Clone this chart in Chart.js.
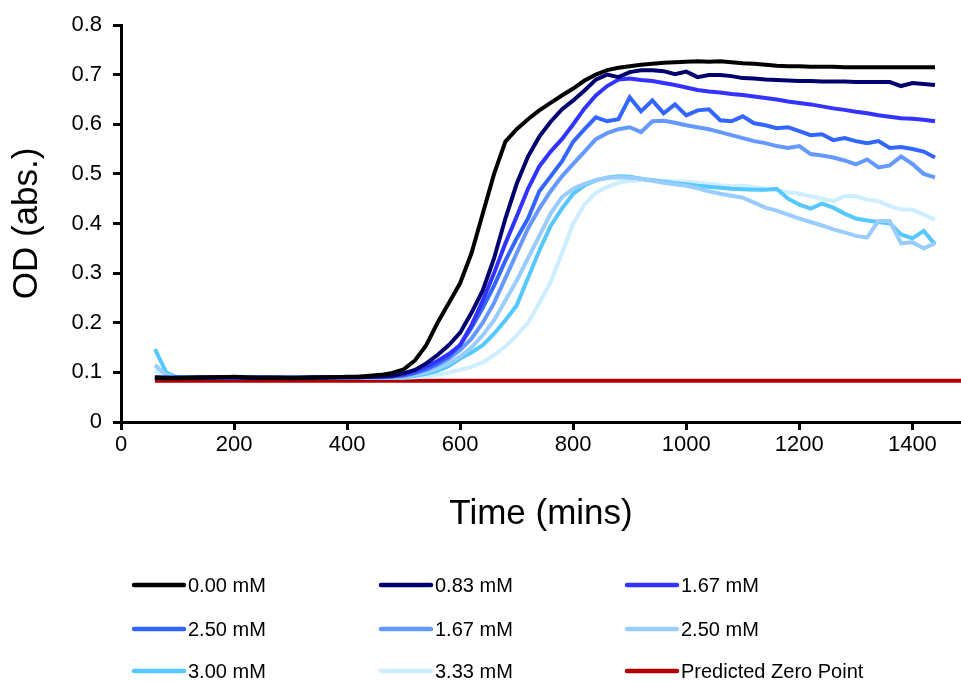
<!DOCTYPE html>
<html>
<head>
<meta charset="utf-8">
<script src="https://cdn.jsdelivr.net/npm/chart.js@4.4.1/dist/chart.umd.min.js"></script>
<style>
  html, body { margin: 0; padding: 0; background: #fff; }
  #wrap { width: 961px; height: 681px; }
</style>
</head>
<body>
<div id="wrap"><canvas id="growth" width="961" height="681"></canvas></div>
<script>
// sampling times (mins)
var times = [60,80,100,120,140,160,180,200,220,240,
             260,280,300,320,340,360,380,400,420,440,
             460,480,500,520,540,560,580,600,620,640,
             660,680,700,720,740,760,780,800,820,840,
             860,880,900,920,940,960,980,1000,1020,1040,
             1060,1080,1100,1120,1140,1160,1180,1200,1220,1240,
             1260,1280,1300,1320,1340,1360,1380,1400,1420,1440];

var labels = ["0.00 mM", "0.83 mM", "1.67 mM", "2.50 mM", "1.67 mM", "2.50 mM", "3.00 mM", "3.33 mM", "Predicted Zero Point"];
var colors = ["#000000", "#00006e", "#3333ff", "#3366ff", "#6699ff", "#99ccff", "#55c8ff", "#cceeff", "#b00000"];

var od000 = [0.089,0.089,0.088,0.089,0.089,0.090,0.090,0.091,0.090,0.089,
             0.089,0.089,0.088,0.089,0.089,0.090,0.090,0.091,0.091,0.093,
             0.095,0.099,0.106,0.124,0.155,0.200,0.240,0.280,0.340,0.420,
             0.500,0.565,0.590,0.610,0.628,0.643,0.658,0.672,0.688,0.700,
             0.709,0.714,0.717,0.720,0.722,0.724,0.725,0.726,0.727,0.726,
             0.727,0.725,0.723,0.722,0.720,0.718,0.717,0.717,0.716,0.716,
             0.716,0.715,0.715,0.715,0.715,0.715,0.715,0.715,0.715,0.715];
var od083 = [0.089,0.088,0.089,0.089,0.090,0.089,0.090,0.090,0.089,0.089,
             0.089,0.089,0.089,0.089,0.090,0.089,0.090,0.090,0.090,0.091,
             0.092,0.093,0.098,0.105,0.118,0.135,0.155,0.180,0.220,0.265,
             0.330,0.410,0.480,0.535,0.575,0.605,0.630,0.648,0.668,0.690,
             0.700,0.695,0.705,0.709,0.709,0.707,0.701,0.706,0.695,0.699,
             0.699,0.697,0.693,0.692,0.690,0.689,0.688,0.687,0.687,0.686,
             0.686,0.686,0.685,0.685,0.685,0.685,0.677,0.683,0.681,0.679];
var od167 = [0.090,0.089,0.089,0.089,0.089,0.090,0.089,0.089,0.089,0.090,
             0.089,0.089,0.089,0.089,0.089,0.090,0.090,0.090,0.090,0.091,
             0.091,0.092,0.096,0.103,0.112,0.123,0.137,0.155,0.195,0.245,
             0.300,0.360,0.414,0.470,0.515,0.545,0.570,0.600,0.632,0.658,
             0.677,0.690,0.692,0.689,0.687,0.683,0.679,0.674,0.669,0.666,
             0.664,0.661,0.659,0.656,0.653,0.650,0.646,0.643,0.640,0.636,
             0.632,0.629,0.625,0.622,0.618,0.615,0.612,0.611,0.609,0.606];
var od250 = [0.089,0.089,0.090,0.089,0.089,0.089,0.090,0.089,0.089,0.089,
             0.090,0.089,0.089,0.089,0.090,0.090,0.090,0.090,0.091,0.091,
             0.091,0.092,0.094,0.099,0.107,0.118,0.132,0.155,0.190,0.230,
             0.275,0.325,0.370,0.410,0.465,0.495,0.525,0.565,0.590,0.614,
             0.606,0.610,0.654,0.626,0.648,0.622,0.640,0.618,0.628,0.630,
             0.608,0.606,0.616,0.602,0.598,0.592,0.594,0.586,0.578,0.580,
             0.568,0.572,0.566,0.562,0.566,0.552,0.554,0.550,0.545,0.533];
var od167b = [0.089,0.089,0.089,0.090,0.089,0.089,0.089,0.090,0.089,0.089,
              0.089,0.090,0.089,0.089,0.089,0.090,0.089,0.090,0.090,0.090,
              0.090,0.091,0.093,0.098,0.105,0.115,0.128,0.145,0.168,0.200,
              0.240,0.290,0.340,0.390,0.430,0.465,0.495,0.520,0.545,0.570,
              0.582,0.590,0.594,0.584,0.606,0.607,0.603,0.598,0.594,0.590,
              0.584,0.578,0.572,0.566,0.562,0.556,0.552,0.556,0.540,0.537,
              0.533,0.527,0.519,0.529,0.513,0.517,0.535,0.520,0.500,0.493];
var od250b = [0.115,0.095,0.089,0.089,0.089,0.090,0.089,0.089,0.089,0.089,
              0.089,0.089,0.089,0.090,0.089,0.089,0.089,0.089,0.090,0.090,
              0.090,0.090,0.091,0.095,0.100,0.108,0.118,0.132,0.150,0.175,
              0.205,0.245,0.285,0.330,0.375,0.420,0.453,0.470,0.480,0.488,
              0.492,0.493,0.492,0.490,0.486,0.482,0.479,0.476,0.471,0.465,
              0.460,0.456,0.452,0.442,0.432,0.426,0.418,0.410,0.403,0.396,
              0.388,0.382,0.375,0.372,0.405,0.405,0.360,0.362,0.350,0.360];
var od300 = [0.147,0.100,0.089,0.090,0.089,0.089,0.089,0.090,0.089,0.089,
             0.089,0.089,0.090,0.089,0.089,0.090,0.089,0.090,0.090,0.090,
             0.089,0.090,0.090,0.093,0.097,0.103,0.113,0.128,0.140,0.155,
             0.178,0.205,0.235,0.290,0.345,0.395,0.430,0.460,0.477,0.487,
             0.492,0.495,0.494,0.490,0.487,0.484,0.481,0.479,0.476,0.474,
             0.472,0.470,0.469,0.468,0.468,0.470,0.450,0.438,0.430,0.440,
             0.432,0.420,0.410,0.406,0.403,0.400,0.378,0.370,0.385,0.358];
var od333 = [0.105,0.092,0.089,0.089,0.089,0.089,0.089,0.089,0.089,0.089,
             0.089,0.089,0.089,0.089,0.089,0.089,0.089,0.089,0.089,0.089,
             0.089,0.089,0.089,0.090,0.092,0.095,0.100,0.105,0.111,0.120,
             0.135,0.152,0.175,0.200,0.240,0.282,0.340,0.400,0.438,0.462,
             0.474,0.482,0.486,0.487,0.487,0.486,0.485,0.484,0.482,0.480,
             0.477,0.475,0.476,0.473,0.470,0.467,0.463,0.460,0.455,0.450,
             0.445,0.455,0.455,0.448,0.445,0.435,0.428,0.428,0.418,0.408];

// predicted zero point line
var zeroTimes = [60, 1500];
var zeroValues = [0.083, 0.083];

var series = [od000, od083, od167, od250, od167b, od250b, od300, od333];

function toPoints(xs, ys) {
  return xs.map((t, i) => ({ x: t, y: ys[i] }));
}

var datasets = series.map((vals, i) => ({
  label: labels[i],
  data: toPoints(times, vals),
  borderColor: colors[i],
  backgroundColor: colors[i],
  borderWidth: 4
}));
datasets.push({
  label: labels[8],
  data: toPoints(zeroTimes, zeroValues),
  borderColor: colors[8],
  backgroundColor: colors[8],
  borderWidth: 4
});

var fontFam = "'Liberation Sans', Arial, sans-serif";

// legend laid out as a 3 x 3 grid under the plot
var legendCols = [134, 381, 627];
var legendRows = [585, 629, 671];
var legendGrid = {
  id: 'legendGrid',
  afterDraw(chart) {
    var ctx = chart.ctx;
    ctx.save();
    ctx.font = "20px " + fontFam;
    ctx.textBaseline = 'middle';
    ctx.lineCap = 'round';
    chart.data.datasets.forEach((ds, i) => {
      var x = legendCols[i % 3], y = legendRows[Math.floor(i / 3)];
      ctx.strokeStyle = ds.borderColor;
      ctx.lineWidth = 4.5;
      ctx.beginPath();
      ctx.moveTo(x, y);
      ctx.lineTo(x + 50, y);
      ctx.stroke();
      ctx.fillStyle = '#000';
      ctx.fillText(ds.label, x + 54, y + 1);
    });
    ctx.restore();
  }
};

new Chart(document.getElementById('growth'), {
  type: 'line',
  data: { datasets: datasets },
  plugins: [legendGrid],
  options: {
    responsive: false,
    animation: false,
    layout: { padding: { left: 6, top: 25, right: 0, bottom: 146 } },
    elements: { point: { radius: 0 }, line: { tension: 0 } },
    plugins: { legend: { display: false }, tooltip: { enabled: false } },
    scales: {
      x: {
        type: 'linear', min: 0, max: 1486,
        afterFit: (s) => { s.height = 113; },
        border: { color: '#000', width: 3 },
        grid: { drawOnChartArea: false, drawTicks: true, tickLength: 8, color: '#000', tickWidth: 3 },
        ticks: { stepSize: 200, includeBounds: false, color: '#000', padding: 2,
                 font: { size: 22, family: fontFam }, callback: (v) => String(v) },
        title: { display: true, text: 'Time (mins)', color: '#000', padding: 0, font: { size: 35, family: fontFam } }
      },
      y: {
        min: 0, max: 0.8,
        afterFit: (s) => { s.width = 115; },
        border: { color: '#000', width: 3 },
        grid: { drawOnChartArea: false, drawTicks: true, tickLength: 8, color: '#000', tickWidth: 3 },
        ticks: { stepSize: 0.1, color: '#000', padding: 11,
                 font: { size: 22, family: fontFam }, callback: (v) => String(Math.round(v * 10) / 10) },
        title: { display: true, text: 'OD (abs.)', color: '#000', padding: 0, font: { size: 35, family: fontFam } }
      }
    }
  }
});
</script>
</body>
</html>
